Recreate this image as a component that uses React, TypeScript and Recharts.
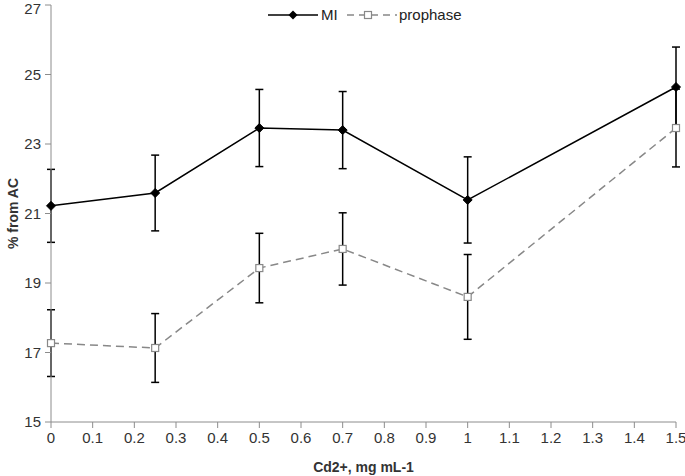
import React from "react";
import { LineChart, Line, XAxis, YAxis, ErrorBar } from "recharts";

const xValues = [0, 0.25, 0.5, 0.7, 1, 1.5];
const miValues = [21.22, 21.59, 23.46, 23.4, 21.39, 24.64];
const miErrors = [1.05, 1.09, 1.11, 1.11, 1.24, 1.15];
const prophaseValues = [17.27, 17.13, 19.43, 19.98, 18.6, 23.46];
const prophaseErrors = [0.96, 0.99, 1.0, 1.04, 1.22, 1.12];
const xTicks = [0, 0.1, 0.2, 0.3, 0.4, 0.5, 0.6, 0.7, 0.8, 0.9, 1, 1.1, 1.2, 1.3, 1.4, 1.5];
const yTicks = [15, 17, 19, 21, 23, 25, 27];

const data = xValues.map((x, i) => ({
  x,
  mi: miValues[i],
  miErr: miErrors[i],
  prophase: prophaseValues[i],
  prophaseErr: prophaseErrors[i],
}));

const FONT = "'Liberation Sans', Arial, sans-serif";
const AXIS_COLOR = "#8c8c8c";
const TEXT_COLOR = "#333";

const Diamond = (props: any) => {
  const { cx, cy } = props;
  if (cx == null || cy == null) return <g key={`mi-${props.index}`} />;
  const r = 4.5;
  return (
    <polygon
      key={`mi-${props.index}`}
      points={`${cx},${cy - r} ${cx + r},${cy} ${cx},${cy + r} ${cx - r},${cy}`}
      fill="#000"
      stroke="#000"
      strokeWidth={1}
    />
  );
};

const Square = (props: any) => {
  const { cx, cy } = props;
  if (cx == null || cy == null) return <g key={`pr-${props.index}`} />;
  const s = 7;
  return (
    <rect
      key={`pr-${props.index}`}
      x={cx - s / 2}
      y={cy - s / 2}
      width={s}
      height={s}
      fill="#fff"
      stroke="#888"
      strokeWidth={1.2}
    />
  );
};

const YTick = (props: any) => {
  const { x, y, payload } = props;
  const yy = Math.max(y, 9);
  return (
    <text
      x={x}
      y={yy}
      dy="0.355em"
      textAnchor="end"
      fill={TEXT_COLOR}
      fontSize={15}
      fontFamily={FONT}
    >
      {payload.value}
    </text>
  );
};

const LegendBox = () => (
  <svg width={200} height={22} style={{ display: "block" }}>
    <line x1={0} y1={11} x2={50} y2={11} stroke="#000" strokeWidth={1.5} />
    <polygon points="25,6.5 29.5,11 25,15.5 20.5,11" fill="#000" />
    <text x={53} y={16} fontFamily={FONT} fontSize={15} fill="#222">MI</text>
    <line x1={79} y1={11} x2={129} y2={11} stroke="#888" strokeWidth={1.5} strokeDasharray="7 5" />
    <rect x={96.5} y={7.5} width={7} height={7} fill="#fff" stroke="#888" strokeWidth={1.2} />
    <text x={131} y={16} fontFamily={FONT} fontSize={15} fill="#222">prophase</text>
  </svg>
);

export default function App() {
  return (
    <div style={{ position: "absolute", left: 0, top: 0, width: 685, height: 476 }}>
      <LineChart
        width={685}
        height={476}
        data={data}
        margin={{ top: 5, right: 9, bottom: 4, left: 0 }}
      >
        <XAxis
          dataKey="x"
          type="number"
          domain={[0, 1.5]}
          ticks={xTicks}
          interval={0}
          height={50}
          stroke={AXIS_COLOR}
          tickSize={6}
          tickMargin={4}
          tick={{ fill: TEXT_COLOR, fontSize: 15, fontFamily: FONT }}
          label={{
            value: "Cd2+, mg mL-1",
            position: "insideBottom",
            offset: 0,
            fill: TEXT_COLOR,
            fontSize: 14,
            fontWeight: "bold",
            fontFamily: FONT,
          }}
        />
        <YAxis
          type="number"
          domain={[15, 27]}
          ticks={yTicks}
          interval={0}
          width={51}
          allowDataOverflow
          stroke={AXIS_COLOR}
          tickSize={6}
          tickMargin={4}
          tick={<YTick />}
          label={{
            value: "% from AC",
            angle: -90,
            position: "insideLeft",
            offset: 13,
            style: { textAnchor: "middle" },
            fill: TEXT_COLOR,
            fontSize: 14,
            fontWeight: "bold",
            fontFamily: FONT,
          }}
        />
        <Line
          dataKey="prophase"
          stroke="#888"
          strokeWidth={1.5}
          strokeDasharray="8 5"
          dot={(p: any) => <Square {...p} />}
          isAnimationActive={false}
        >
          <ErrorBar dataKey="prophaseErr" width={4} stroke="#000" strokeWidth={1.5} direction="y" />
        </Line>
        <Line
          dataKey="mi"
          stroke="#000"
          strokeWidth={1.5}
          dot={(p: any) => <Diamond {...p} />}
          isAnimationActive={false}
        >
          <ErrorBar dataKey="miErr" width={4} stroke="#000" strokeWidth={1.5} direction="y" />
        </Line>
      </LineChart>
      <div style={{ position: "absolute", top: 4, left: 268 }}>
        <LegendBox />
      </div>
    </div>
  );
}
